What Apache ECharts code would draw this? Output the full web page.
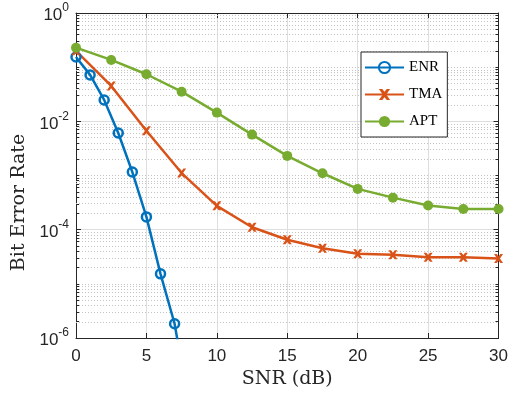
<!DOCTYPE html>
<html>
<head>
<meta charset="utf-8">
<script src="https://cdn.jsdelivr.net/npm/echarts@6/dist/echarts.min.js"></script>
<style>
  html, body { margin: 0; padding: 0; background: #fff; }
  #chart { width: 511px; height: 395px; }
</style>
</head>
<body>
<div id="chart"></div>
<script>
// SNR (dB) points
const snrEnr = [0, 1, 2, 3, 4, 5, 6, 7, 8];
const snrStep = [0, 2.5, 5, 7.5, 10, 12.5, 15, 17.5, 20, 22.5, 25, 27.5, 30];

// bit error rates
const berEnr = [0.154, 0.072, 0.0248, 0.0061, 0.00116, 1.72e-4, 1.53e-5, 1.83e-6, 6e-8];
const berTma = [0.2, 0.045, 0.0067, 0.00111, 2.75e-4, 1.11e-4, 6.5e-5, 4.55e-5, 3.58e-5, 3.43e-5, 3.1e-5, 3.1e-5, 2.93e-5];
const berApt = [0.229, 0.136, 0.074, 0.0353, 0.0145, 0.00569, 0.0023, 0.0011, 5.66e-4, 3.9e-4, 2.79e-4, 2.4e-4, 2.4e-4];

const seriesNames = ['ENR', 'TMA', 'APT'];
const colors = ['#0072BD', '#D95319', '#77AC30'];
const decades = [-6, -5, -4, -3, -2, -1];

const axisColor = '#262626';
const crossPath = 'path://M0,0 L3,0 L5,2.6 L7,0 L10,0 L6.6,5 L10,10 L7,10 L5,7.4 L3,10 L0,10 L3.4,5 Z';

// log10 transform so a value axis can carry the log scale
const toPts = (xs, ys) => xs.map((x, i) => [x, Math.log10(ys[i])]);

// minor positions 1..9 x 10^d (skip the major ones every two decades)
const minorPos = [];
decades.forEach(d => {
  for (let m = 1; m <= 9; m++) {
    if (m === 1 && d % 2 === 0) continue;
    minorPos.push(Math.log10(m) + d);
  }
});

const minorGrid = minorPos.map(v => ({ yAxis: v }));
const minorTicks = [];
minorPos.forEach(v => {
  minorTicks.push([{ coord: [0, v] }, { coord: [0.22, v] }]);
  minorTicks.push([{ coord: [29.78, v] }, { coord: [30, v] }]);
});

const chart = echarts.init(document.getElementById('chart'));

const option = {
  animation: false,
  backgroundColor: '#fff',
  grid: { left: 76, right: 9, top: 13, bottom: 57 },
  legend: {
    data: seriesNames,
    orient: 'vertical',
    left: 361,
    top: 52,
    z: 10,
    itemWidth: 39,
    itemHeight: 14,
    itemGap: 12,
    padding: [8, 5, 8, 3],
    backgroundColor: '#fff',
    borderColor: axisColor,
    borderWidth: 1,
    borderRadius: 0,
    textStyle: { fontFamily: 'Liberation Serif', fontSize: 15, color: '#000', lineHeight: 14 }
  },
  xAxis: [
    {
      type: 'value', min: 0, max: 30, interval: 5,
      name: 'SNR (dB)', nameLocation: 'middle', nameGap: 30,
      nameTextStyle: { fontFamily: 'DejaVu Serif', fontSize: 19, color: axisColor },
      axisLine: { show: true, onZero: false, lineStyle: { color: axisColor, width: 1 } },
      axisTick: { show: true, inside: true, length: 5, lineStyle: { color: axisColor } },
      axisLabel: { margin: 10, fontFamily: 'Liberation Sans', fontSize: 17, color: axisColor },
      splitLine: { show: true, lineStyle: { color: '#dedede', width: 1 } }
    },
    {
      type: 'value', min: 0, max: 30, interval: 5, position: 'top',
      axisLine: { show: true, onZero: false, lineStyle: { color: axisColor, width: 1 } },
      axisTick: { show: true, inside: true, length: 5, lineStyle: { color: axisColor } },
      axisLabel: { show: false },
      splitLine: { show: false }
    }
  ],
  yAxis: [
    {
      type: 'value', min: -6, max: 0, interval: 2,
      name: 'Bit Error Rate', nameLocation: 'middle', nameGap: 46,
      nameTextStyle: { fontFamily: 'DejaVu Serif', fontSize: 19, color: axisColor, padding: [0, 54, 0, 0] },
      axisLine: { show: true, onZero: false, lineStyle: { color: axisColor, width: 1 } },
      axisTick: { show: true, inside: true, length: 5, lineStyle: { color: axisColor } },
      axisLabel: {
        margin: 7,
        formatter: v => '{b|10}{s|' + v + '}',
        rich: {
          b: { fontFamily: 'Liberation Sans', fontSize: 17, color: axisColor, lineHeight: 22, verticalAlign: 'bottom' },
          s: { fontFamily: 'Liberation Sans', fontSize: 12, color: axisColor, lineHeight: 12, verticalAlign: 'top' }
        }
      },
      splitLine: { show: true, lineStyle: { color: '#dedede', width: 1 } }
    },
    {
      type: 'value', min: -6, max: 0, interval: 2, position: 'right',
      axisLine: { show: true, onZero: false, lineStyle: { color: axisColor, width: 1 } },
      axisTick: { show: true, inside: true, length: 5, lineStyle: { color: axisColor } },
      axisLabel: { show: false },
      splitLine: { show: false }
    }
  ],
  series: [
    {
      name: 'ENR', type: 'line', z: 5,
      data: toPts(snrEnr, berEnr),
      symbol: 'circle', symbolSize: 9,
      lineStyle: { color: colors[0], width: 2.5 },
      itemStyle: { color: 'rgba(0,0,0,0)', borderColor: colors[0], borderWidth: 2.5 }
    },
    {
      name: 'TMA', type: 'line', z: 5,
      data: toPts(snrStep, berTma),
      symbol: crossPath, symbolSize: 9,
      lineStyle: { color: colors[1], width: 2.5 },
      itemStyle: { color: colors[1] }
    },
    {
      name: 'APT', type: 'line', z: 5,
      data: toPts(snrStep, berApt),
      symbol: 'circle', symbolSize: 10,
      lineStyle: { color: colors[2], width: 2.5 },
      itemStyle: { color: colors[2] }
    },
    {
      name: 'grid-minor', type: 'line', data: [], z: 1, silent: true,
      markLine: {
        z: 1, silent: true, symbol: ['none', 'none'], label: { show: false }, animation: false,
        lineStyle: { color: '#c4c4c4', width: 1, type: [1, 2] },
        emphasis: { disabled: true },
        data: minorGrid
      }
    },
    {
      name: 'tick-minor', type: 'line', data: [], z: 1, silent: true,
      markLine: {
        z: 1, silent: true, symbol: ['none', 'none'], label: { show: false }, animation: false,
        lineStyle: { color: axisColor, width: 1, type: 'solid' },
        emphasis: { disabled: true },
        data: minorTicks
      }
    }
  ]
};

chart.setOption(option);
</script>
</body>
</html>
